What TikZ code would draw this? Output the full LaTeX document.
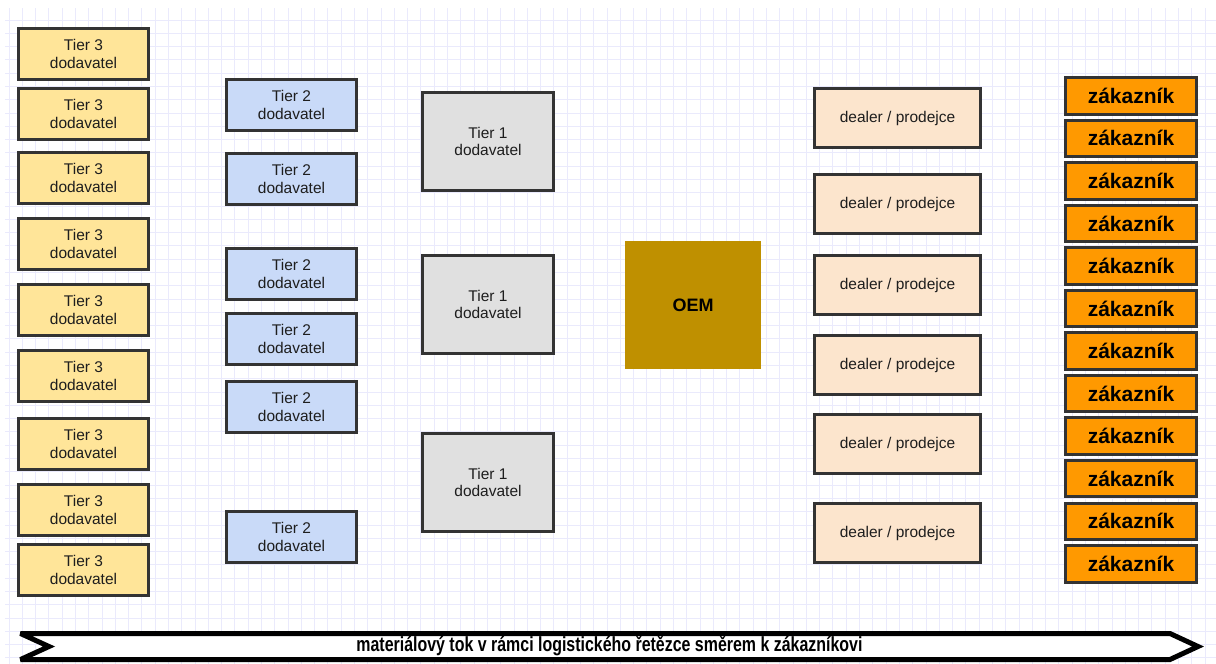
\documentclass[tikz,border=0pt]{standalone}
\usepackage{fontspec}
\setmainfont{Liberation Sans}
\definecolor{gridc}{RGB}{234,234,252}
\definecolor{edge}{RGB}{51,51,51}
\definecolor{txt}{RGB}{30,30,30}
\definecolor{tthree}{RGB}{255,229,153}
\definecolor{ttwo}{RGB}{201,218,248}
\definecolor{tone}{RGB}{224,224,224}
\definecolor{oemc}{RGB}{191,144,0}
\definecolor{dealerc}{RGB}{252,229,205}
\definecolor{custc}{RGB}{255,153,0}
\tikzset{
  box/.style={draw=edge, line width=3pt, align=center, inner sep=0pt,
    text=txt, font=\fontsize{15.5}{17.7}\selectfont},
  tierthree/.style={box, fill=tthree, minimum width=130pt, minimum height=51pt},
  tiertwo/.style={box, fill=ttwo, minimum width=130pt, minimum height=51pt},
  tierone/.style={box, fill=tone, minimum width=131pt, minimum height=98pt},
  dealer/.style={box, fill=dealerc, minimum width=166pt, minimum height=59pt},
  customer/.style={box, fill=custc, minimum width=131pt, minimum height=36.5pt,
    text=black, font=\fontsize{21}{24}\selectfont\bfseries},
  oembox/.style={fill=oemc, inner sep=0pt, minimum width=136pt, minimum height=128pt,
    text=black, font=\fontsize{18}{21}\selectfont\bfseries},
  flowarrow/.style={draw=black, line width=5pt, fill=white, line join=miter, miter limit=3},
  flowtext/.style={inner sep=0pt, text=black, xscale=0.778, transform shape,
    font=\fontsize{20.5}{23}\selectfont\bfseries}
}
\begin{document}
\begin{tikzpicture}[x=1pt,y=-1pt]
\useasboundingbox (0,0) rectangle (1216,664);
\fill[white] (0,0) rectangle (1216,664);
% background grid
\begin{scope}
  \clip (5,8) rectangle (1216,664);
  \foreach \k in {0,...,91} \draw[gridc, line width=1pt] ({9+13.29*\k},0) -- ({9+13.29*\k},664);
  \foreach \k in {0,...,50} \draw[gridc, line width=1pt] (0,{6.71+13.29*\k}) -- (1216,{6.71+13.29*\k});
\end{scope}
% tier 3 suppliers
\foreach \n/\y in {a/54,b/114,c/178,d/244,e/310,f/376,g/444,h/510,i/570}
  \node[tierthree] (tthree\n) at (83.5,\y) {Tier 3\\dodavatel};
% tier 2 suppliers
\foreach \n/\y in {a/105,b/179,c/274,d/339,e/407,f/537}
  \node[tiertwo] (ttwo\n) at (291.5,\y) {Tier 2\\dodavatel};
% tier 1 suppliers
\foreach \n/\y in {a/141.5,b/304.5,c/482.5}
  \node[tierone] (tone\n) at (488,\y) {Tier 1\\dodavatel};
% manufacturer
\node[oembox] (oem) at (693,305) {OEM};
% dealers
\foreach \n/\y in {a/118,b/204,c/285,d/365,e/444,f/533}
  \node[dealer] (dealer\n) at (897.5,\y) {dealer / prodejce};
% customers
\foreach \k in {0,...,11}
  \node[customer] (cust\k) at (1131,{95.75+42.55*\k}) {zákazník};
% material flow arrow
\draw[flowarrow] (20.5,633.5) -- (1170,633.5) -- (1198,646.5) -- (1170,659.5) -- (20.5,659.5) -- (49,646.5) -- cycle;
\node[flowtext] (flow) at (609.5,646) {materiálový tok v rámci logistického řetězce směrem k zákazníkovi};
\end{tikzpicture}
\end{document}
